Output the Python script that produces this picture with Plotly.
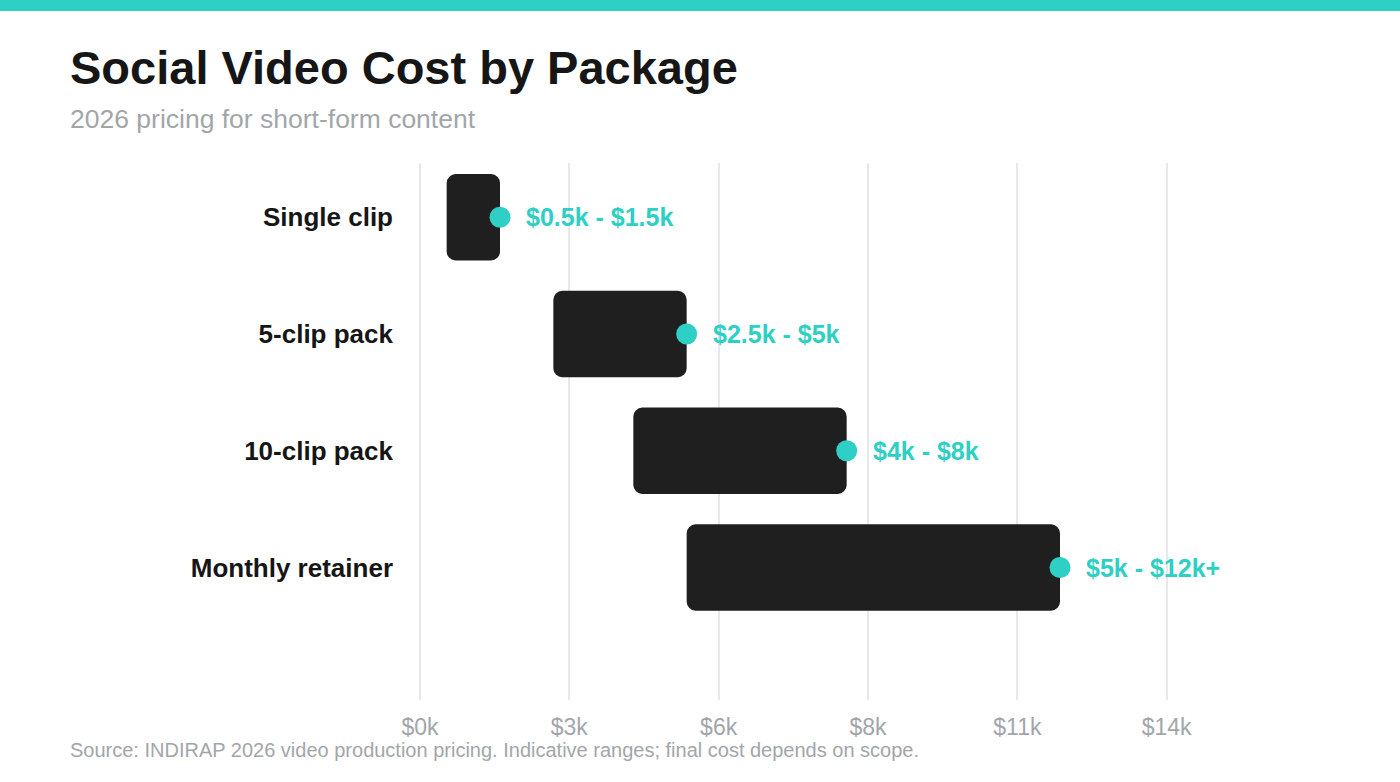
import plotly.graph_objects as go

packages = ["Single clip", "5-clip pack", "10-clip pack", "Monthly retainer"]
low_k = [0.5, 2.5, 4.0, 5.0]
high_k = [1.5, 5.0, 8.0, 12.0]
range_labels = ["$0.5k - $1.5k", "$2.5k - $5k", "$4k - $8k", "$5k - $12k+"]
tick_vals = [0, 2.8, 5.6, 8.4, 11.2, 14]
tick_text = ["$0k", "$3k", "$6k", "$8k", "$11k", "$14k"]

TEAL = "#2ecfc5"
BAR = "#1f1f1f"
FONT = "Liberation Sans, Arial, sans-serif"

W, H = 1400, 782
ML, MR, MT, MB = 420, 180, 163, 82
PH = H - MT - MB


def py(y_px):
    return (H - MB - y_px) / PH


def px(x_px):
    return (x_px - ML) / (W - ML - MR)


fig = go.Figure()
fig.add_trace(go.Bar(
    y=packages,
    x=[h - l for l, h in zip(low_k, high_k)],
    base=low_k,
    orientation="h",
    marker=dict(color=BAR, line=dict(width=0)),
    width=0.74,
    hoverinfo="skip",
))
fig.add_trace(go.Scatter(
    y=packages,
    x=high_k,
    mode="markers",
    marker=dict(color=TEAL, size=21, line=dict(width=0)),
    hoverinfo="skip",
    cliponaxis=False,
))

annotations = []
for p, h, t in zip(packages, high_k, range_labels):
    annotations.append(dict(
        x=h, y=p, xref="x", yref="y", text=t, showarrow=False,
        xanchor="left", yanchor="middle", xshift=24,
        font=dict(family=FONT, size=25, color=TEAL, weight="bold"),
    ))

annotations += [
    dict(x=px(68), y=py(68), xref="paper", yref="paper", text="<b>Social Video Cost by Package</b>",
         showarrow=False, xanchor="left", yanchor="middle",
         font=dict(family=FONT, size=47, color="#161616")),
    dict(x=px(68), y=py(119), xref="paper", yref="paper", text="2026 pricing for short-form content",
         showarrow=False, xanchor="left", yanchor="middle",
         font=dict(family=FONT, size=26.5, color="#a2a6aa")),
    dict(x=px(68), y=py(750), xref="paper", yref="paper",
         text="Source: INDIRAP 2026 video production pricing. Indicative ranges; final cost depends on scope.",
         showarrow=False, xanchor="left", yanchor="middle",
         font=dict(family=FONT, size=20, color="#a2a6aa")),
]

fig.update_layout(
    width=W, height=H,
    margin=dict(l=ML, r=MR, t=MT, b=MB),
    paper_bgcolor="white", plot_bgcolor="white",
    showlegend=False,
    barcornerradius=9,
    annotations=annotations,
    shapes=[dict(type="rect", xref="paper", yref="paper", x0=px(-10), x1=px(1410),
                 y0=py(11), y1=py(-5), fillcolor=TEAL, line=dict(width=0), layer="above")],
    xaxis=dict(
        range=[0, 15], tickvals=tick_vals, ticktext=tick_text,
        showgrid=True, gridcolor="#e8e8e8", gridwidth=2,
        zeroline=True, zerolinecolor="#e8e8e8", zerolinewidth=2,
        showline=False, ticks="",
        tickfont=dict(family=FONT, size=23, color="#a2a6aa"),
        ticklabelstandoff=11, fixedrange=True,
    ),
    yaxis=dict(
        categoryorder="array", categoryarray=packages,
        range=[4.135, -0.465],
        showgrid=False, zeroline=False, showline=False, ticks="",
        tickfont=dict(family=FONT, size=26, color="#161616", weight="bold"),
        ticklabelstandoff=26, fixedrange=True,
    ),
)

fig.write_html("out.html")
